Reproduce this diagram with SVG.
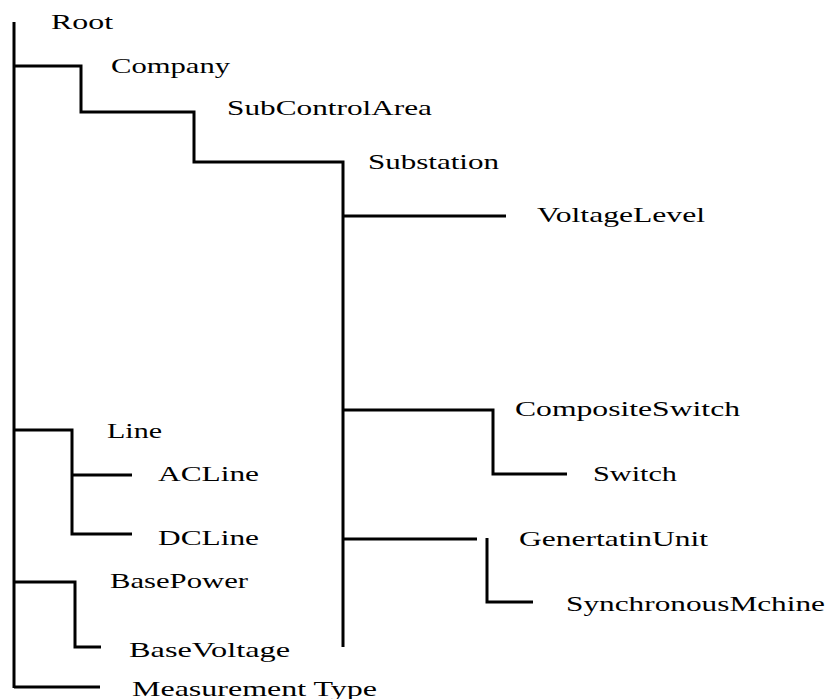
<svg xmlns="http://www.w3.org/2000/svg" width="830" height="699" viewBox="0 0 830 699">
<style>
.c{fill:none;stroke:#000;stroke-width:3;stroke-linejoin:miter;stroke-linecap:butt}
.t{font-family:"Liberation Serif","Times New Roman",serif;font-size:21px;fill:#000}
</style>
<rect width="830" height="699" fill="#fff"/>
<g id="connectors" class="c">
<path d="M14,22 V688"/>
<path d="M14,66 H81 V112 H194 V162 H343 V647"/>
<path d="M343,216 H506"/>
<path d="M343,410 H493 V474 H567"/>
<path d="M343,539 H477"/>
<path d="M487,538 V602 H533"/>
<path d="M14,430 H72 V534 H132"/>
<path d="M72,475 H132"/>
<path d="M14,582 H75 V647 H101"/>
<path d="M14,687 H100"/>
</g>
<g id="n-root"><text class="t" x="51" y="29" textLength="62" lengthAdjust="spacingAndGlyphs">Root</text></g>
<g id="n-company"><text class="t" x="111" y="73" textLength="119" lengthAdjust="spacingAndGlyphs">Company</text></g>
<g id="n-subcontrolarea"><text class="t" x="227" y="115" textLength="205" lengthAdjust="spacingAndGlyphs">SubControlArea</text></g>
<g id="n-substation"><text class="t" x="368" y="169" textLength="131" lengthAdjust="spacingAndGlyphs">Substation</text></g>
<g id="n-voltagelevel"><text class="t" x="537" y="222" textLength="168" lengthAdjust="spacingAndGlyphs">VoltageLevel</text></g>
<g id="n-compositeswitch"><text class="t" x="515" y="416" textLength="225" lengthAdjust="spacingAndGlyphs">CompositeSwitch</text></g>
<g id="n-switch"><text class="t" x="593" y="481" textLength="84" lengthAdjust="spacingAndGlyphs">Switch</text></g>
<g id="n-generatingunit"><text class="t" x="519" y="546" textLength="189" lengthAdjust="spacingAndGlyphs">GenertatinUnit</text></g>
<g id="n-synchronousmachine"><text class="t" x="566" y="611" textLength="259" lengthAdjust="spacingAndGlyphs">SynchronousMchine</text></g>
<g id="n-line"><text class="t" x="107" y="438" textLength="55" lengthAdjust="spacingAndGlyphs">Line</text></g>
<g id="n-acline"><text class="t" x="158" y="481" textLength="101" lengthAdjust="spacingAndGlyphs">ACLine</text></g>
<g id="n-dcline"><text class="t" x="158" y="545" textLength="101" lengthAdjust="spacingAndGlyphs">DCLine</text></g>
<g id="n-basepower"><text class="t" x="110" y="588" textLength="138" lengthAdjust="spacingAndGlyphs">BasePower</text></g>
<g id="n-basevoltage"><text class="t" x="129" y="657" textLength="161" lengthAdjust="spacingAndGlyphs">BaseVoltage</text></g>
<g id="n-measurementtype"><text class="t" x="132" y="696" textLength="245" lengthAdjust="spacingAndGlyphs">Measurement Type</text></g>
</svg>
